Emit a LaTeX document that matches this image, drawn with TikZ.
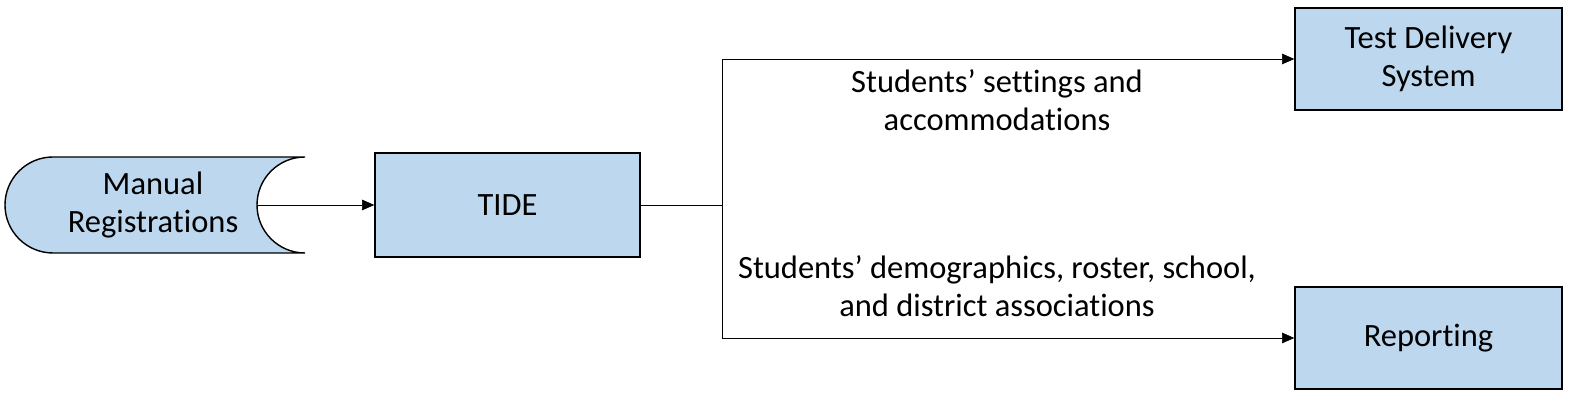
\documentclass[tikz,border=0pt]{standalone}
\usepackage{fontspec}
\setmainfont{Carlito}[Ligatures={NoCommon}]
\usetikzlibrary{arrows.meta}
\definecolor{boxblue}{RGB}{189,215,238}

\begin{document}
\begin{tikzpicture}[
  x=0.02cm,
  y=0.02cm,
  font=\fontsize{18.5}{22}\selectfont,
  block/.style={
    draw,
    fill=boxblue,
    rectangle,
    line width=0.8pt,
    align=center,
    inner sep=0pt
  },
  label/.style={
    draw=none,
    fill=none,
    align=center
  },
  >={Triangle[length=7pt,width=6pt]}
]
\useasboundingbox (0,0) rectangle (1579,401);

% Stored data shape
\draw[fill=boxblue,line width=0.8pt]
  (305,244) -- (53,244) arc[start angle=90,end angle=270,radius=48]
  -- (305,148) arc[start angle=270,end angle=90,radius=48];
\node[label] (manual) at (153,196) {Manual\\Registrations};
\coordinate (manualout) at (257,196);

% Boxes
\node[block,minimum width=5.3cm,minimum height=2.08cm] (tide) at (507.5,196) {TIDE};
\node[block,minimum width=5.34cm,minimum height=2.04cm] (tds) at (1428.5,342) {Test Delivery\\System};
\node[block,minimum width=5.34cm,minimum height=2.04cm] (rep) at (1428.5,63) {Reporting};

\coordinate (split) at (722,196);

% Arrows
\draw[->] (manualout) -- (tide.west);
\draw (tide.east) -- (split);
\draw[->] (split) |- (tds.west);
\draw[->] (split) |- (rep.west);

% Labels
\node[label] (settings) at (997,301) {Students’ settings and\\accommodations};
\node[label] (demo) at (997,115) {Students{\char"0027} demographics, roster, school,\\and district associations};
\end{tikzpicture}
\end{document}
